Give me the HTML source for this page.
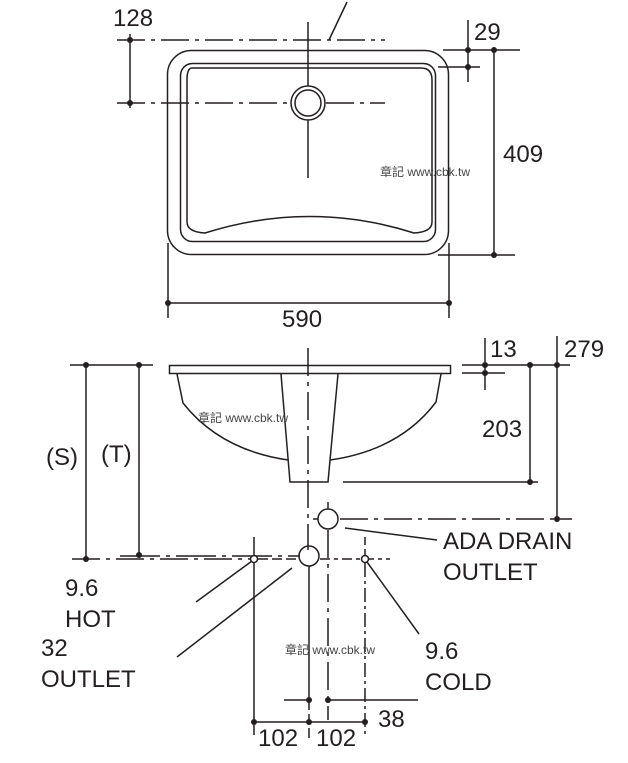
<!DOCTYPE html>
<html><head><meta charset="utf-8"><style>
html,body{margin:0;padding:0;background:#fff;}
svg{display:block}
text{font-family:"Liberation Sans","Noto Sans CJK TC",sans-serif;fill:#231f20;}
.t{font-size:24px}
.w{font-size:12px;fill:#444}
</style></head><body>
<svg width="628" height="763" viewBox="0 0 628 763" xmlns="http://www.w3.org/2000/svg">
<g stroke="#231f20" fill="none" stroke-width="1.5">
<!-- TOP VIEW -->
<rect x="167.5" y="50.5" width="281" height="204" rx="24"/>
<rect x="180.5" y="63.5" width="255" height="178" rx="12"/>
<path d="M192 68 H421 Q432 68 432 80 V222 Q432 232 414 233 Q310 200 205 233 Q187 232 187 222 V80 Q187 68 192 68Z"/>
<circle cx="308" cy="103" r="17"/>
<circle cx="308" cy="103" r="13"/>
<line x1="308" y1="22" x2="308" y2="86"/>
<line x1="308" y1="120" x2="308" y2="178"/>
<line x1="117" y1="40" x2="385" y2="40" stroke-dasharray="28,6,4,6"/>
<line x1="117" y1="103" x2="290" y2="103" stroke-dasharray="28,6,4,6"/>
<line x1="326" y1="103" x2="385" y2="103" stroke-dasharray="28,6,4,6"/>
<line x1="329" y1="40" x2="347" y2="2"/>
<line x1="130" y1="34" x2="130" y2="108"/>
<line x1="468" y1="20" x2="468" y2="82"/>
<line x1="443" y1="50" x2="520" y2="50"/>
<line x1="438" y1="67" x2="480" y2="67"/>
<line x1="494" y1="50" x2="494" y2="255"/>
<line x1="438" y1="255" x2="515" y2="255"/>
<line x1="168" y1="243" x2="168" y2="318"/>
<line x1="449" y1="243" x2="449" y2="318"/>
<line x1="168" y1="303" x2="449" y2="303"/>
<!-- SIDE VIEW -->
<rect x="169.5" y="365.5" width="281" height="8"/>
<path d="M177 374 L183 403 Q220 450 288 460"/>
<path d="M441 374 L436 402 Q400 450 330 460"/>
<path d="M281 374 L290 482 H328 L338 374"/>
<line x1="308" y1="348" x2="308" y2="550" stroke-dasharray="28,6,4,6"/>
<line x1="343" y1="482" x2="538" y2="482"/>
<line x1="530" y1="365" x2="530" y2="482"/>
<line x1="462" y1="365" x2="570" y2="365"/>
<line x1="462" y1="373" x2="505" y2="373"/>
<line x1="485" y1="338" x2="485" y2="390"/>
<line x1="557" y1="336" x2="557" y2="519"/>
<circle cx="328" cy="519" r="10"/>
<line x1="328" y1="502" x2="328" y2="509"/>
<line x1="313" y1="519" x2="318" y2="519"/>
<line x1="340" y1="519" x2="572" y2="519" stroke-dasharray="28,6,4,6"/>
<line x1="328" y1="530" x2="328" y2="720" stroke-dasharray="28,6,4,6"/>
<line x1="345" y1="528" x2="437" y2="540"/>
<circle cx="309" cy="556" r="10"/>
<line x1="309" y1="566" x2="309" y2="700"/>
<line x1="309" y1="700" x2="309" y2="740" stroke-dasharray="10,4"/>
<line x1="70" y1="365" x2="153" y2="365"/>
<line x1="86" y1="365" x2="86" y2="559"/>
<line x1="139" y1="365" x2="139" y2="555"/>
<line x1="72" y1="559" x2="250" y2="559" stroke-dasharray="28,6,4,6"/>
<line x1="120" y1="556" x2="300" y2="556" stroke-dasharray="40,6,4,6"/>
<line x1="258" y1="559" x2="298" y2="559" stroke-dasharray="10,4"/>
<line x1="320" y1="559" x2="390" y2="559" stroke-dasharray="10,4,4,4"/>
<circle cx="254" cy="559" r="3.5" fill="#fff"/>
<circle cx="365" cy="559" r="3.5" fill="#fff"/>
<line x1="254" y1="537" x2="254" y2="555"/>
<line x1="254" y1="563" x2="254" y2="735"/>
<line x1="365" y1="537" x2="365" y2="555" stroke-dasharray="8,4"/>
<line x1="365" y1="563" x2="365" y2="735" stroke-dasharray="14,4,3,4"/>
<line x1="196" y1="602" x2="252" y2="561"/>
<line x1="177" y1="657" x2="292" y2="568"/>
<line x1="367" y1="562" x2="419" y2="634"/>
<line x1="284" y1="700" x2="309" y2="700"/>
<line x1="328" y1="700" x2="418" y2="700"/>
<line x1="252" y1="722" x2="366" y2="722"/>
</g>
<g fill="#231f20">
<circle cx="130" cy="40" r="3"/><circle cx="130" cy="103" r="3"/>
<circle cx="468" cy="50" r="3"/><circle cx="468" cy="67" r="3"/>
<circle cx="494" cy="50" r="3"/><circle cx="494" cy="255" r="3"/>
<circle cx="168" cy="303" r="3"/><circle cx="449" cy="303" r="3"/>
<circle cx="530" cy="365" r="3"/><circle cx="530" cy="482" r="3"/>
<circle cx="485" cy="365" r="3"/><circle cx="485" cy="373" r="3"/>
<circle cx="557" cy="365" r="3"/><circle cx="557" cy="519" r="3"/>
<circle cx="86" cy="365" r="3"/><circle cx="139" cy="365" r="3"/>
<circle cx="86" cy="559" r="3"/><circle cx="139" cy="555" r="3"/>
<circle cx="309" cy="700" r="3"/><circle cx="328" cy="700" r="3"/>
<circle cx="254" cy="722" r="3"/><circle cx="309" cy="722" r="3"/><circle cx="365" cy="722" r="3"/>
</g>
<text class="t" x="113" y="26">128</text>
<text class="t" x="474" y="40">29</text>
<text class="t" x="503" y="162">409</text>
<text class="t" x="282" y="327">590</text>
<text class="t" x="490" y="357">13</text>
<text class="t" x="564" y="357">279</text>
<text class="t" x="482" y="437">203</text>
<text class="t" x="46" y="465">(S)</text>
<text class="t" x="101" y="462">(T)</text>
<text class="t" x="443" y="549">ADA DRAIN</text>
<text class="t" x="443" y="580">OUTLET</text>
<text class="t" x="65" y="596">9.6</text>
<text class="t" x="65" y="627">HOT</text>
<text class="t" x="41" y="656">32</text>
<text class="t" x="41" y="687">OUTLET</text>
<text class="t" x="425" y="659">9.6</text>
<text class="t" x="425" y="690">COLD</text>
<text class="t" x="378" y="727">38</text>
<text class="t" x="258" y="746">102</text>
<text class="t" x="316" y="746">102</text>
<text class="w" x="380" y="176">章記 www.cbk.tw</text>
<text class="w" x="198" y="422">章記 www.cbk.tw</text>
<text class="w" x="285" y="654">章記 www.cbk.tw</text>
</svg>
</body></html>
